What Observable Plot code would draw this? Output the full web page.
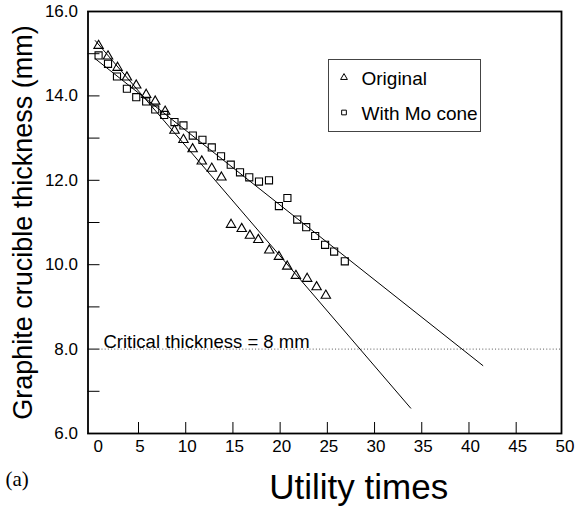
<!DOCTYPE html>
<html>
<head>
<meta charset="utf-8">
<script src="https://cdn.jsdelivr.net/npm/d3@7"></script>
<script src="https://cdn.jsdelivr.net/npm/@observablehq/plot@0.6"></script>
<style>
  html, body { margin: 0; padding: 0; background: #fff; }
  #wrap { position: relative; width: 575px; height: 510px; font-family: "Liberation Sans", Arial, sans-serif; }
  #legend { position: absolute; left: 327.5px; top: 59px; width: 153px; height: 73px; border: 1px solid #444; box-sizing: border-box; background: #fff; }
</style>
</head>
<body>
<div id="wrap"></div>
<script>
// Original crucible
const origX = [0.77, 1.77, 2.78, 3.77, 4.76, 5.81, 6.77, 7.82, 8.81, 9.76, 10.73, 11.70, 12.76, 13.78,
               14.8, 15.93, 16.8, 17.69, 18.85, 19.87, 20.75, 21.67, 22.86, 23.86, 24.84];
const origY = [15.19, 14.94, 14.67, 14.44, 14.25, 14.03, 13.87, 13.63, 13.18, 12.96, 12.74, 12.45, 12.28, 12.07,
               10.95, 10.85, 10.69, 10.59, 10.34, 10.19, 9.96, 9.74, 9.67, 9.47, 9.27];
// With Mo cone
const moX = [0.77, 1.77, 2.72, 3.77, 4.76, 5.81, 6.77, 7.72, 8.81, 9.76, 10.75, 11.77, 12.76, 13.74,
             14.77, 15.75, 16.73, 17.76, 18.82, 19.87, 20.77, 21.81, 22.76, 23.71, 24.76, 25.72, 26.85];
const moY = [14.96, 14.76, 14.46, 14.17, 13.97, 13.87, 13.68, 13.55, 13.38, 13.30, 13.06, 12.96, 12.78, 12.57,
             12.37, 12.19, 12.07, 11.97, 12.00, 11.39, 11.58, 11.07, 10.89, 10.68, 10.47, 10.31, 10.08];
// Fitted lines (end points)
const fitOrigX = [0.42, 33.83];
const fitOrigY = [15.31, 6.60];
const fitMoX = [0.42, 41.47];
const fitMoY = [14.88, 7.61];
// Critical thickness
const criticalY = 8;
const criticalX = [1.13, 49.8];
const criticalLabel = "Critical thickness = 8 mm";
// Ticks
const xTicks = [0, 5, 10, 15, 20, 25, 30, 35, 40, 45, 50];
const yTicksMajor = [6, 8, 10, 12, 14, 16];
const yTicksMinor = [6, 7, 8, 9, 10, 11, 12, 13, 14, 15, 16];
const xTitle = "Utility times";
const yTitle = "Graphite crucible thickness (mm)";
const panelLabel = "(a)";
const seriesNames = ["Original", "With Mo cone"];

const orig = origX.map((x, i) => ({x, y: origY[i]}));
const mo = moX.map((x, i) => ({x, y: moY[i]}));
const fitOrig = fitOrigX.map((x, i) => ({x, y: fitOrigY[i]}));
const fitMo = fitMoX.map((x, i) => ({x, y: fitMoY[i]}));

const font = "Liberation Sans, Arial, sans-serif";

const chart = Plot.plot({
  width: 575,
  height: 510,
  marginLeft: 87.5,
  marginRight: 14,
  marginTop: 11,
  marginBottom: 77,
  style: {fontFamily: font, background: "#fff", color: "#000"},
  x: {domain: [-0.35, 49.8]},
  y: {domain: [6, 16]},
  marks: [
    Plot.ruleY([criticalY], {x1: criticalX[0], x2: criticalX[1], stroke: "#555", strokeWidth: 1, strokeDasharray: "1,2.2"}),
    Plot.text([criticalLabel], {x: criticalX[0], y: criticalY, textAnchor: "start", lineAnchor: "bottom", dx: 1.5, dy: -1, fontSize: 18.5, fill: "#000", style: "letter-spacing:0.5px"}),
    Plot.line(fitOrig, {x: "x", y: "y", stroke: "#000", strokeWidth: 1}),
    Plot.line(fitMo, {x: "x", y: "y", stroke: "#000", strokeWidth: 1}),
    Plot.dot(orig, {x: "x", y: "y", symbol: "triangle", r: 3.5, stroke: "#000", strokeWidth: 1.1, fill: "none"}),
    Plot.dot(mo, {x: "x", y: "y", symbol: "square", r: 4.0, stroke: "#000", strokeWidth: 1.1, fill: "none"}),
    Plot.axisY({ticks: yTicksMinor, tickSize: -12, text: null, stroke: "#000", label: null}),
    Plot.axisY({ticks: yTicksMajor, tickSize: 0, tickPadding: 10, tickFormat: d3.format(".1f"), fontSize: 17, fill: "#000", label: null}),
    Plot.axisX({ticks: xTicks.filter(d => d > 0 && d < 50), tickSize: -11, text: null, stroke: "#000", label: null}),
    Plot.axisX({ticks: xTicks.filter(d => d > 0), tickSize: 0, tickPadding: 6, fontSize: 17, fill: "#000", label: null, dx: 1.5}),
    Plot.axisX({ticks: xTicks.filter(d => d === 0), tickSize: 0, tickPadding: 6, fontSize: 17, fill: "#000", label: null, dx: 7}),
    Plot.frame({stroke: "#000", strokeWidth: 1.8}),
    Plot.text([yTitle], {frameAnchor: "left", textAnchor: "middle", rotate: -90, dx: -65, fontSize: 27, fill: "#000"}),
    Plot.text([xTitle], {frameAnchor: "bottom", textAnchor: "middle", dy: 65, dx: 34, fontSize: 35, fill: "#000", style: "letter-spacing:2.9px"}),
    Plot.text([panelLabel], {frameAnchor: "bottom-left", dx: -82.5, dy: 52, textAnchor: "start", fontSize: 21, fontFamily: "Liberation Serif, Times New Roman, serif", fill: "#000"})
  ]
});

const wrap = document.getElementById("wrap");
wrap.appendChild(chart);

// Legend box (inside the plot area)
const legend = document.createElement("div");
legend.id = "legend";
const ns = "http://www.w3.org/2000/svg";
const lsvg = document.createElementNS(ns, "svg");
lsvg.setAttribute("width", 151);
lsvg.setAttribute("height", 71);
lsvg.style.display = "block";
const syms = [d3.symbolTriangle, d3.symbolSquare];
const sizes = [20, 22];
seriesNames.forEach((name, i) => {
  const cy = i === 0 ? 17.5 : 52.5;
  const p = document.createElementNS(ns, "path");
  p.setAttribute("d", d3.symbol(syms[i], sizes[i])());
  p.setAttribute("transform", `translate(15,${cy})`);
  p.setAttribute("fill", "none");
  p.setAttribute("stroke", "#000");
  p.setAttribute("stroke-width", "1");
  lsvg.appendChild(p);
  const t = document.createElementNS(ns, "text");
  t.setAttribute("x", 32.5);
  t.setAttribute("y", cy + 7);
  t.setAttribute("font-size", 19);
  t.setAttribute("font-family", font);
  t.textContent = name;
  lsvg.appendChild(t);
});
legend.appendChild(lsvg);
wrap.appendChild(legend);
</script>
</body>
</html>
